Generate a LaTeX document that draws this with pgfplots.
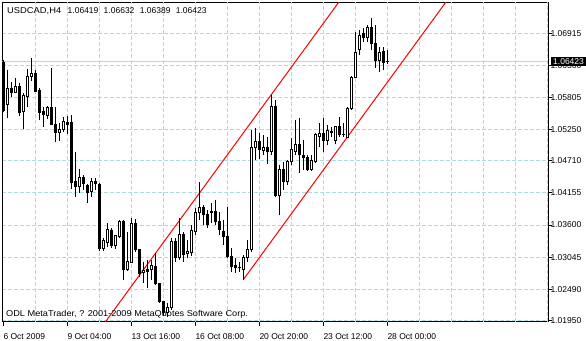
\documentclass[border=0pt]{standalone}
\usepackage{fontspec}
\setmainfont{Liberation Sans}
\usepackage{graphicx}
\usepackage{pgfplots}
\usepackage{pgfplotstable}
\pgfplotsset{compat=1.18}
\definecolor{gridc}{RGB}{170,221,221}
\newcommand\mtfont{\fontsize{8.5}{10}\selectfont}

\pgfplotstableread{
k o h l c
0 1.06415 1.06450 1.05553 1.05588
1 1.05691 1.06277 1.05450 1.05967
2 1.05967 1.06070 1.05812 1.05898
3 1.05898 1.06139 1.05881 1.06001
4 1.06001 1.06053 1.05484 1.05553
5 1.05570 1.05881 1.05260 1.05846
6 1.05829 1.06294 1.05639 1.06174
7 1.06174 1.06484 1.06088 1.06226
8 1.06226 1.06277 1.05898 1.05915
9 1.05932 1.05967 1.05415 1.05553
10 1.05570 1.05639 1.05295 1.05519
11 1.05501 1.05657 1.05432 1.05639
12 1.05639 1.06312 1.05329 1.05346
13 1.05346 1.05639 1.05036 1.05208
14 1.05208 1.05364 1.05053 1.05260
15 1.05260 1.05467 1.05208 1.05398
16 1.05381 1.05484 1.05174 1.05346
17 1.05364 1.05501 1.04226 1.04329
18 1.04346 1.04864 1.04088 1.04260
19 1.04260 1.04570 1.04157 1.04415
20 1.04415 1.04467 1.04208 1.04312
21 1.04277 1.04312 1.03984 1.04157
22 1.04174 1.04415 1.04088 1.04346
23 1.04346 1.04415 1.04208 1.04312
24 1.04295 1.04329 1.03157 1.03191
25 1.03191 1.03381 1.03157 1.03329
26 1.03295 1.03640 1.03226 1.03519
27 1.03502 1.03553 1.03208 1.03243
28 1.03243 1.03433 1.03191 1.03415
29 1.03398 1.03691 1.03381 1.03657
30 1.03657 1.03691 1.02657 1.02829
31 1.02829 1.03484 1.02812 1.02967
32 1.02950 1.03726 1.02950 1.03622
33 1.03622 1.03708 1.03140 1.03174
34 1.03174 1.03174 1.02709 1.02760
35 1.02778 1.02967 1.02605 1.02812
36 1.02829 1.03002 1.02519 1.02795
37 1.02829 1.03002 1.02657 1.02898
38 1.02881 1.03122 1.02571 1.02588
39 1.02588 1.02605 1.02260 1.02278
40 1.02278 1.02295 1.02036 1.02088
41 1.02088 1.02260 1.02019 1.02174
42 1.02174 1.03381 1.02140 1.03312
43 1.03312 1.03381 1.02967 1.03036
44 1.03036 1.03726 1.03002 1.03433
45 1.03433 1.03484 1.02967 1.03088
46 1.03105 1.03346 1.03036 1.03140
47 1.03122 1.03605 1.03071 1.03502
48 1.03484 1.03898 1.03433 1.03812
49 1.03812 1.04346 1.03691 1.03898
50 1.03898 1.03950 1.03605 1.03777
51 1.03777 1.03864 1.03553 1.03605
52 1.03829 1.03984 1.03640 1.03821
53 1.03829 1.04036 1.03605 1.03657
54 1.03657 1.03829 1.03433 1.03519
55 1.03484 1.03691 1.03260 1.03398
56 1.03398 1.03915 1.03036 1.03053
57 1.03053 1.03208 1.02795 1.02881
58 1.02898 1.03036 1.02778 1.02864
59 1.02864 1.02967 1.02795 1.02872
60 1.02829 1.03088 1.02657 1.03036
61 1.03036 1.03346 1.02967 1.03174
62 1.03174 1.05243 1.03140 1.04932
63 1.04932 1.05277 1.04726 1.05036
64 1.05036 1.05191 1.04743 1.04898
65 1.04881 1.05157 1.04812 1.04932
66 1.04932 1.05122 1.04657 1.04864
67 1.04864 1.05846 1.04812 1.05657
68 1.05657 1.05760 1.04088 1.04105
69 1.04105 1.04639 1.03777 1.04553
70 1.04553 1.04691 1.04208 1.04346
71 1.04346 1.04726 1.04295 1.04691
72 1.04691 1.05105 1.04639 1.04898
73 1.04864 1.05415 1.04812 1.04984
74 1.04984 1.05450 1.04502 1.04812
75 1.04795 1.05070 1.04553 1.04760
76 1.04760 1.04812 1.04536 1.04553
77 1.04553 1.04812 1.04536 1.04708
78 1.04691 1.05191 1.04674 1.05157
79 1.05139 1.05364 1.04950 1.05191
80 1.05191 1.05450 1.04864 1.05070
81 1.05070 1.05329 1.04984 1.05226
82 1.05208 1.05295 1.05122 1.05217
83 1.05070 1.05312 1.05001 1.05295
84 1.05295 1.05467 1.05122 1.05157
85 1.05157 1.05364 1.05122 1.05165
86 1.05122 1.05639 1.05105 1.05622
87 1.05622 1.06174 1.05588 1.06157
88 1.06157 1.06932 1.06139 1.06588
89 1.06639 1.06967 1.06536 1.06881
90 1.06915 1.07001 1.06760 1.06846
91 1.06846 1.07053 1.06760 1.07019
92 1.07019 1.07174 1.06622 1.06743
93 1.06743 1.07053 1.06312 1.06450
94 1.06450 1.06674 1.06243 1.06588
95 1.06605 1.06674 1.06277 1.06415
96 1.06419 1.06632 1.06389 1.06423
}\candles

\begin{document}
\begin{tikzpicture}
\useasboundingbox (-2.3pt,-18.3pt) rectangle (583.7pt,321.7pt);
\begin{axis}[
  at={(0pt,0pt)}, anchor=south west,
  scale only axis, width=546pt, height=319.4pt,
  xmin=-0.25, xmax=136.25, ymin=1.0193, ymax=1.0745,
  axis line style={line width=1pt, black},
  tick label style={font=\mtfont},
  xtick={0,16,32,48,64,80,96},
  xticklabels={6 Oct 2009, 9 Oct 04:00, 13 Oct 16:00, 16 Oct 08:00, 20 Oct 20:00, 23 Oct 12:00, 28 Oct 00:00},
  xtick pos=left, ytick pos=right, yticklabel pos=right,
  tick align=outside, major tick length=4pt,
  tick style={black, line width=1pt},
  xticklabel style={anchor=base west, inner sep=0pt, yshift=-13.3pt},
  ytick={1.0195,1.0249,1.03045,1.036,1.04155,1.0471,1.0525,1.05805,1.0636,1.06915},
  yticklabels={1.01950,1.02490,1.03045,1.03600,1.04155,1.04710,1.05250,1.05805,1.06360,1.06915},
  yticklabel style={anchor=west, inner sep=0pt, xshift=-2pt},
  ymajorgrids,
  major grid style={gridc, line width=1pt, dash pattern=on 4pt off 2pt},
  extra x ticks={8,16,...,136},
  extra x tick labels={},
  extra x tick style={grid=major, major tick length=0pt},
  clip mode=individual,
]
\addplot[gridc, line width=1pt] coordinates {(-0.25,1.06423) (136.25,1.06423)};
\addplot[red, line width=1pt] coordinates {(25,1.01877) (84,1.07464)};
\addplot[red, line width=1pt] coordinates {(60,1.02657) (111,1.07487)};
% wicks
\addplot[black, line width=1pt, quiver={u=0, v=\thisrow{h}-\thisrow{l}}]
  table[x=k, y=l] {\candles};
% bodies
\addplot[black, line width=3pt, quiver={u=0, v=abs(\thisrow{c}-\thisrow{o})+0.000173}]
  table[x=k, y expr={min(\thisrow{o},\thisrow{c})-0.0000865}] {\candles};
% white interiors of rising candles
\addplot[white, line width=1pt, quiver={u=0, v=\thisrow{c}-\thisrow{o}-0.000173}]
  table[x=k, y expr={\thisrow{c}-\thisrow{o}>0.00026 ? \thisrow{o}+0.0000865 : nan}] {\candles};
\coordinate (cl) at (axis cs:136.25,1.06423);
\end{axis}
\node[anchor=west, fill=black, text=white, inner xsep=2pt, inner ysep=1.5pt, font=\mtfont] at ([xshift=2.7pt]cl) {1.06423};
\node[anchor=base west, inner sep=0pt, font=\mtfont] at (4.7pt,308.4pt) {\scalebox{1.1}[1]{USDCAD,H4}\hspace{6.5pt}1.06419\hspace{5.3pt}1.06632\hspace{5.3pt}1.06389\hspace{5.3pt}1.06423};
\node[anchor=base west, inner sep=0pt, font=\mtfont] at (3.7pt,5pt) {\scalebox{1.08}[1]{ODL MetaTrader, ? 2001-2009 MetaQuotes Software Corp.}};
\end{tikzpicture}
\end{document}
